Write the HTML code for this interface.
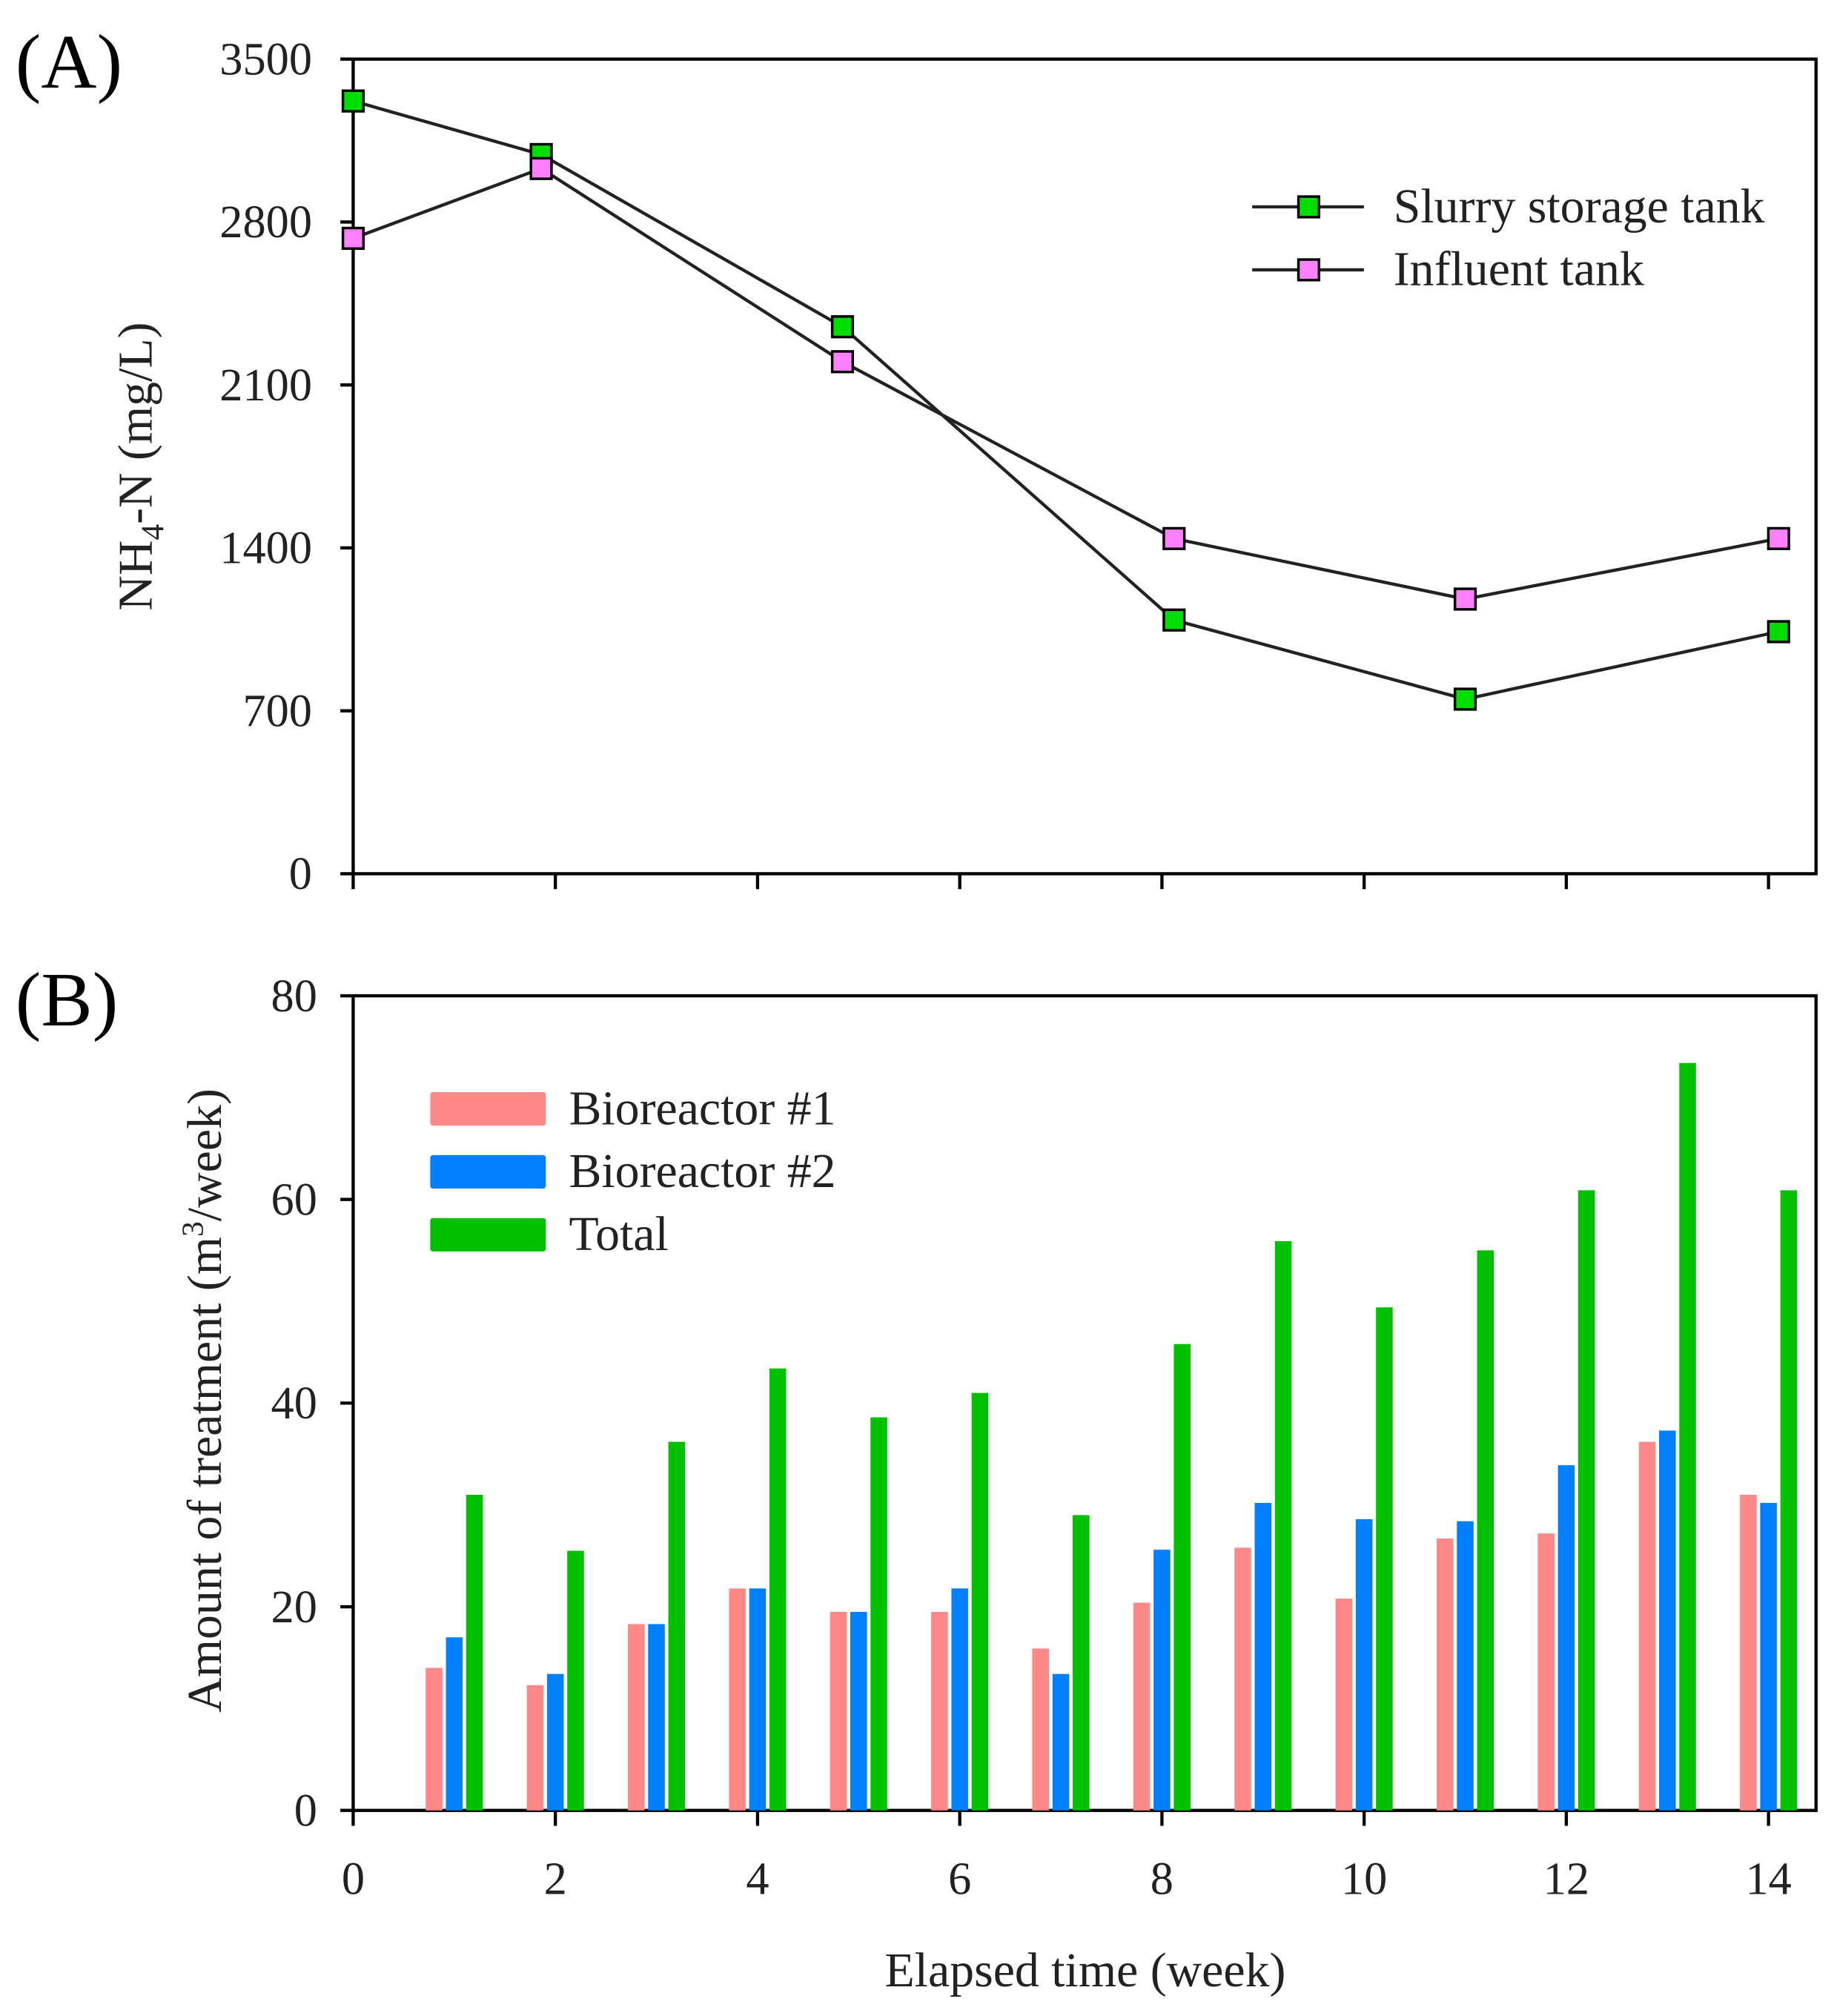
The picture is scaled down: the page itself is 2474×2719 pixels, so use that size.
<!DOCTYPE html>
<html><head><meta charset="utf-8">
<style>
html,body{margin:0;padding:0;background:#fff;}
svg{display:block;font-family:"Liberation Serif",serif;}
</style></head>
<body>
<svg id="fig" width="2474" height="2719" viewBox="0 0 1428 1569" preserveAspectRatio="none" xmlns="http://www.w3.org/2000/svg">
<g id="A"></g>
<g id="B"></g>
</svg>
<script>
// Panel A data
const weeksA = [0, 1.86, 4.84, 8.12, 11.0, 14.1];
const slurry = [3320, 3090, 2350, 1090, 750, 1040];
const influent = [2730, 3030, 2200, 1440, 1180, 1440];
const yTicksA = [0, 700, 1400, 2100, 2800, 3500];
// Panel B data
const weeksB = [1,2,3,4,5,6,7,8,9,10,11,12,13,14];
const bio1 = [14, 12.3, 18.3, 21.8, 19.5, 19.5, 15.9, 20.4, 25.8, 20.8, 26.7, 27.2, 36.2, 31];
const bio2 = [17, 13.4, 18.3, 21.8, 19.5, 21.8, 13.4, 25.6, 30.2, 28.6, 28.4, 33.9, 37.3, 30.2];
const total = [31, 25.5, 36.2, 43.4, 38.6, 41, 29, 45.8, 55.9, 49.4, 55, 60.9, 73.4, 60.9];
const yTicksB = [0, 20, 40, 60, 80];
const xTicks = [0,2,4,6,8,10,12,14];

const NS = "http://www.w3.org/2000/svg";
function mk(parent, tag, attrs, text){
  const e = document.createElementNS(NS, tag);
  for (const k in attrs) e.setAttribute(k, attrs[k]);
  if (text !== undefined) e.textContent = text;
  parent.appendChild(e);
  return e;
}
const X0 = 275, X1 = 1414, WK = (1377 - 275) / 14;
const xs = w => X0 + w * WK;
const A = document.getElementById('A'), B = document.getElementById('B');
const yA = v => 680 - v * (680 - 46) / 3500;
const yB = v => 1409 - v * (1409 - 775) / 80;
const TF = 36;

let r = mk(A, 'rect', {x: X0, y: 46, width: X1 - X0, height: 634, fill: 'none', stroke: '#000', 'stroke-width': 2.5});


yTicksA.forEach(v => {
  let l = mk(A, 'line', {x1: X0 - 10, x2: X0, y1: yA(v), y2: yA(v), stroke: '#000', 'stroke-width': 2.5});
  
  
  let t = mk(A, 'text', {x: X0 - 32, y: yA(v) + 12, 'text-anchor': 'end', 'font-size': TF, fill: '#222'}, v);
  
  
});
xTicks.forEach(w => {
  let l = mk(A, 'line', {x1: xs(w), x2: xs(w), y1: 680, y2: 692, stroke: '#000', 'stroke-width': 2.5});
  
  
});
function series(data, fill, name){
  const pts = weeksA.map((w, i) => xs(w) + ',' + yA(data[i])).join(' ');
  let pl = mk(A, 'polyline', {points: pts, fill: 'none', stroke: '#222', 'stroke-width': 2.5});
  
  
  weeksA.forEach((w, i) => {
    let m = mk(A, 'rect', {x: xs(w) - 8, y: yA(data[i]) - 8, width: 16, height: 16, fill: fill, stroke: '#000', 'stroke-width': 2});
    
    
  });
}
series(slurry, '#00dd00', 'slurry-storage-tank');
series(influent, '#ff80ff', 'influent-tank');
[['Slurry storage tank', '#00dd00', 161], ['Influent tank', '#ff80ff', 210]].forEach(([lab, c, y]) => {
  let l = mk(A, 'line', {x1: 975, x2: 1062, y1: y, y2: y, stroke: '#222', 'stroke-width': 2.5});
  
  
  let m = mk(A, 'rect', {x: 1011, y: y - 8, width: 16, height: 16, fill: c, stroke: '#000', 'stroke-width': 2});
  
  
  let t = mk(A, 'text', {x: 1085, y: y + 12, 'font-size': 38, fill: '#222'}, lab);
  
  
});
let la = mk(A, 'text', {x: 12, y: 68, 'font-size': 60, fill: '#000'}, '(A)');


let ya = mk(A, 'text', {transform: 'translate(118,363) rotate(-90)', 'text-anchor': 'middle', 'font-size': 38, fill: '#222'});


ya.innerHTML = 'NH<tspan font-size="25" dy="9">4</tspan><tspan dy="-9">-N (mg/L)</tspan>';

r = mk(B, 'rect', {x: X0, y: 775, width: X1 - X0, height: 634, fill: 'none', stroke: '#000', 'stroke-width': 2.5});


const BW = 13, OFF = 0.2;
weeksB.forEach((w, i) => {
  [[bio1, '#ff8888', -OFF, 'bar-bioreactor-1'], [bio2, '#0080ff', 0, 'bar-bioreactor-2'], [total, '#00c000', OFF, 'bar-total']].forEach(([arr, c, o, n]) => {
    let b = mk(B, 'rect', {x: xs(w + o) - BW / 2, y: yB(arr[i]), width: BW, height: yB(0) - yB(arr[i]), fill: c});
    
    
  });
});
yTicksB.forEach(v => {
  let l = mk(B, 'line', {x1: X0 - 10, x2: X0, y1: yB(v), y2: yB(v), stroke: '#000', 'stroke-width': 2.5});
  
  
  let t = mk(B, 'text', {x: X0 - 28, y: yB(v) + 12, 'text-anchor': 'end', 'font-size': TF, fill: '#222'}, v);
  
  
});
xTicks.forEach(w => {
  let l = mk(B, 'line', {x1: xs(w), x2: xs(w), y1: 1409, y2: 1421, stroke: '#000', 'stroke-width': 2.5});
  
  
  let t = mk(B, 'text', {x: xs(w), y: 1474, 'text-anchor': 'middle', 'font-size': TF, fill: '#222'}, w);
  
  
});
[['Bioreactor #1', '#ff8888', 863], ['Bioreactor #2', '#0080ff', 912], ['Total', '#00c000', 961]].forEach(([lab, c, y]) => {
  let m = mk(B, 'rect', {x: 335, y: y - 13, width: 90, height: 26, rx: 2, fill: c});
  
  
  let t = mk(B, 'text', {x: 443, y: y + 12, 'font-size': 38, fill: '#222'}, lab);
  
  
});
let lb = mk(B, 'text', {x: 12, y: 798, 'font-size': 60, fill: '#000'}, '(B)');


let yb = mk(B, 'text', {transform: 'translate(172,1090) rotate(-90)', 'text-anchor': 'middle', 'font-size': 38, fill: '#222'});


yb.innerHTML = 'Amount of treatment (m<tspan font-size="24" dy="-14">3</tspan><tspan dy="14">/week)</tspan>';
let xt = mk(B, 'text', {x: 845, y: 1546, 'text-anchor': 'middle', 'font-size': 38, fill: '#222'}, 'Elapsed time (week)');


</script>
</body></html>
